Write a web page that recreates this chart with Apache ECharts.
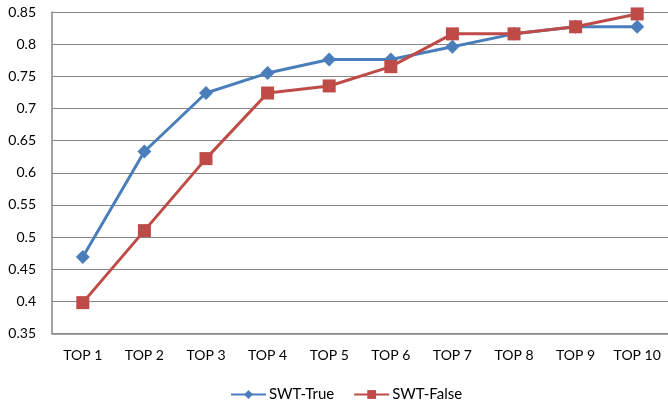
<!DOCTYPE html>
<html>
<head>
<meta charset="utf-8">
<script src="https://cdn.jsdelivr.net/npm/echarts@6/dist/echarts.min.js"></script>
<style>
  html, body { margin: 0; padding: 0; background: #fff; }
  #chart { width: 668px; height: 405px; }
</style>
</head>
<body>
<div id="chart"></div>
<script>
// Categories and series values
const categories = ['TOP 1', 'TOP 2', 'TOP 3', 'TOP 4', 'TOP 5', 'TOP 6', 'TOP 7', 'TOP 8', 'TOP 9', 'TOP 10'];
const swtTrue  = [0.469, 0.633, 0.724, 0.755, 0.776, 0.776, 0.796, 0.816, 0.827, 0.827];
const swtFalse = [0.398, 0.510, 0.622, 0.724, 0.735, 0.765, 0.816, 0.816, 0.827, 0.847];
const seriesNames = ['SWT-True', 'SWT-False'];

// Y axis range
const yMin = 0.35;
const yMax = 0.85;
const yStep = 0.05;

const FONT = 'Lato, "Open Sans", sans-serif';
const BLUE = '#4a7ebb';
const RED = '#be4b48';

const chart = echarts.init(document.getElementById('chart'), null, { renderer: 'canvas' });
chart.setOption({
  animation: false,
  backgroundColor: '#fff',
  textStyle: { fontFamily: FONT },
  grid: { left: 52, top: 12, width: 620, bottom: 71.5, containLabel: false },
  legend: {
    bottom: 3,
    left: 230,
    padding: 0,
    itemWidth: 35,
    itemHeight: 11,
    itemGap: 19,
    textStyle: { fontFamily: FONT, fontSize: 15, color: '#000', padding: [0, 0, 0, -2] },
    data: seriesNames
  },
  xAxis: {
    type: 'category',
    data: categories,
    boundaryGap: true,
    axisLine: { lineStyle: { color: '#868686', width: 1.5 } },
    axisTick: { show: false },
    axisLabel: { color: '#000', fontSize: 14, fontFamily: FONT, margin: 15, interval: 0 },
    splitLine: { show: false }
  },
  yAxis: {
    type: 'value',
    min: yMin,
    max: yMax,
    interval: yStep,
    axisLine: { show: true, lineStyle: { color: '#868686', width: 1.5 } },
    axisTick: { show: false },
    axisLabel: {
      color: '#000', fontSize: 14, fontFamily: FONT, margin: 16,
      formatter: v => String(parseFloat(v.toFixed(2)))
    },
    splitLine: { lineStyle: { color: '#868686', width: 1 } }
  },
  series: [
    {
      name: seriesNames[0],
      type: 'line',
      data: swtTrue,
      symbol: 'diamond',
      symbolSize: 14,
      lineStyle: { color: BLUE, width: 3 },
      itemStyle: { color: BLUE },
      z: 2
    },
    {
      name: seriesNames[1],
      type: 'line',
      data: swtFalse,
      symbol: 'rect',
      symbolSize: 13,
      lineStyle: { color: RED, width: 3 },
      itemStyle: { color: RED },
      z: 3
    }
  ]
});
</script>
</body>
</html>
